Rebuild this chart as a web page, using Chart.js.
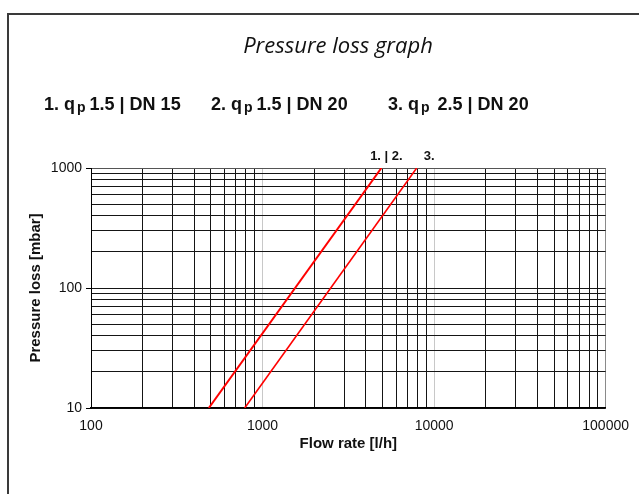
<!DOCTYPE html>
<html>
<head>
<meta charset="utf-8">
<script src="https://cdn.jsdelivr.net/npm/chart.js@4"></script>
<style>
  html, body { margin: 0; padding: 0; background: #fff; overflow: hidden; }
  #wrap { width: 639px; height: 494px; }
</style>
</head>
<body>
<div id="wrap"><canvas id="pressureChart" width="639" height="494"></canvas></div>
<script>
// tick labels shown on the axes
const xTickLabels = [100, 1000, 10000, 100000];
const yTickLabels = [10, 100, 1000];

// two pressure loss curves (flow rate l/h -> pressure loss mbar)
const flowA = [486, 4930];
const lossA = [10, 1000];
const flowB = [787, 7920];
const lossB = [10, 1000];
const curveNames = ['1. | 2.', '3.'];

// meter legend line
const meterNo = ['1.', '2.', '3.'];
const meterQp = ['1.5', '1.5', '2.5'];
const meterDn = ['DN 15', 'DN 20', 'DN 20'];

document.addEventListener('DOMContentLoaded', function() {
  const COLORS = {
    line: 'rgb(255, 0, 0)',
    grid: '#151515',
    gridLight: '#c8c8c8',
    frame: '#3a3a3a',
    text: '#111'
  };
  const SANS = '"Liberation Sans", Arial, sans-serif';

  // gridlines at 1..9 x every decade
  function decadeTicks(min, max) {
    const ticks = [];
    for (let d = min; d < max; d *= 10) {
      for (let m = 1; m < 10; m++) ticks.push({ value: m * d });
    }
    ticks.push({ value: max });
    return ticks;
  }

  function toPoints(xs, ys) {
    return xs.map((x, i) => ({ x: x, y: ys[i] }));
  }

  // frame, title, legend line and curve labels
  const decorPlugin = {
    id: 'decor',
    beforeDraw(chart) {
      const ctx = chart.ctx;
      ctx.save();
      ctx.fillStyle = '#fff';
      ctx.fillRect(0, 0, chart.width, chart.height);
      ctx.fillStyle = COLORS.frame;
      ctx.fillRect(7, 13, 2, chart.height);
      ctx.fillRect(7, 13, chart.width, 2);
      ctx.restore();
    },
    afterDraw(chart) {
      const ctx = chart.ctx;
      const xs = chart.scales.x;
      ctx.save();
      ctx.fillStyle = COLORS.text;
      ctx.textBaseline = 'alphabetic';

      ctx.font = 'italic 22px "Open Sans", "Noto Sans", sans-serif';
      ctx.textAlign = 'center';
      ctx.fillText('Pressure loss graph', 338, 53);

      // legend: "1. q(p) 1.5 | DN 15" ...
      const groupX = [44, 211, 388];
      ctx.textAlign = 'left';
      meterNo.forEach((no, i) => {
        let x = groupX[i];
        ctx.font = 'bold 18px ' + SANS;
        const head = no + ' q';
        ctx.fillText(head, x, 110);
        x += ctx.measureText(head).width + 2;
        ctx.font = 'bold 14px ' + SANS;
        ctx.fillText('p', x, 112);
        x += ctx.measureText('p').width + (i === 2 ? 8 : 4);
        ctx.font = 'bold 18px ' + SANS;
        ctx.fillText(meterQp[i] + ' | ' + meterDn[i], x, 110);
      });

      // labels at the top end of each curve
      ctx.font = 'bold 13px ' + SANS;
      const ends = [flowA[flowA.length - 1], flowB[flowB.length - 1]];
      ctx.textAlign = 'center';
      ctx.fillText(curveNames[0], xs.getPixelForValue(ends[0]) + 5, 160);
      ctx.textAlign = 'left';
      ctx.fillText(curveNames[1], xs.getPixelForValue(ends[1]) + 7, 160);
      ctx.restore();
    }
  };

  new Chart(document.getElementById('pressureChart'), {
    type: 'line',
    data: {
      datasets: [{
        label: curveNames[0],
        data: toPoints(flowA, lossA),
        borderColor: COLORS.line,
        borderWidth: 2,
        pointRadius: 0
      }, {
        label: curveNames[1],
        data: toPoints(flowB, lossB),
        borderColor: COLORS.line,
        borderWidth: 1.6,
        pointRadius: 0
      }]
    },
    options: {
      responsive: false,
      animation: false,
      layout: { padding: { left: 0, right: 32, top: 168, bottom: 0 } },
      plugins: {
        legend: { display: false },
        tooltip: { enabled: false }
      },
      scales: {
        x: {
          type: 'logarithmic',
          min: xTickLabels[0],
          max: xTickLabels[xTickLabels.length - 1],
          afterBuildTicks: s => { s.ticks = decadeTicks(s.min, s.max); },
          afterFit: s => { s.height = 86; },
          ticks: {
            autoSkip: false,
            maxRotation: 0,
            padding: 10,
            color: COLORS.text,
            font: { family: SANS, size: 14 },
            callback: v => xTickLabels.includes(v) ? String(v) : ''
          },
          grid: {
            drawTicks: false,
            lineWidth: 1,
            color: c => {
              const v = c.tick ? c.tick.value : 0;
              if (v === 1000 || v === 10000) return COLORS.gridLight;
              if (v === 100000) return '#8a8a8a';
              return COLORS.grid;
            }
          },
          border: { color: '#000', width: 1.5 },
          title: {
            display: true,
            text: 'Flow rate [l/h]',
            color: COLORS.text,
            font: { family: SANS, size: 15, weight: 'bold' },
            padding: { top: 0, bottom: 41 }
          }
        },
        y: {
          type: 'logarithmic',
          min: yTickLabels[0],
          max: yTickLabels[yTickLabels.length - 1],
          afterBuildTicks: s => { s.ticks = decadeTicks(s.min, s.max); },
          afterFit: s => { s.width = 91; },
          ticks: {
            autoSkip: false,
            padding: 4,
            color: COLORS.text,
            font: { family: SANS, size: 14 },
            callback: v => yTickLabels.includes(v) ? String(v) : ''
          },
          grid: {
            tickLength: 5,
            lineWidth: 1,
            color: c => (c.tick && c.tick.value === 1000) ? '#555' : COLORS.grid,
            tickColor: c => (c.tick && yTickLabels.includes(c.tick.value)) ? '#000' : 'rgba(0,0,0,0)'
          },
          border: { color: '#000', width: 1 },
          title: {
            display: true,
            text: 'Pressure loss [mbar]',
            color: COLORS.text,
            font: { family: SANS, size: 15, weight: 'bold' },
            padding: { top: 27, bottom: 0 }
          }
        }
      }
    },
    plugins: [decorPlugin]
  });
});
</script>
</body>
</html>
